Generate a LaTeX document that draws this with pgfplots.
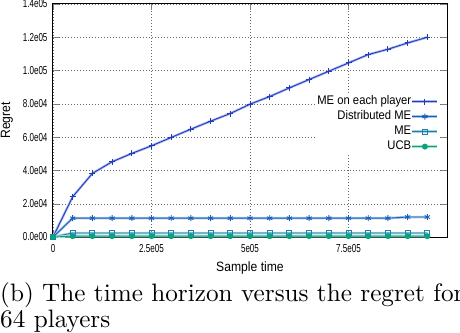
\documentclass[border=0pt]{standalone}
\usepackage{fontspec}
\usepackage{pgfplots}
\pgfplotsset{compat=1.18}
\newfontfamily\tickfont[FakeStretch=0.7]{Liberation Sans}
\newfontfamily\labfont[FakeStretch=0.9]{Liberation Sans}

\definecolor{c1}{HTML}{1F3CBF}\definecolor{c1l}{HTML}{B3BDEC}
\definecolor{c2}{HTML}{1560B8}\definecolor{c2l}{HTML}{A9C5E6}
\definecolor{c3}{HTML}{1F80B0}\definecolor{c3l}{HTML}{A5D0E3}
\definecolor{c4}{HTML}{0AA27F}\definecolor{c4l}{HTML}{A8E3D2}

% legend sample: light thick line under the plot's own line and mark
\pgfplotsset{halo legend/.style={legend image code/.code={%
  \draw[#1, line width=2.5pt] (0cm,0cm) -- (0.88cm,0cm);
  \draw[mark repeat=2,mark phase=2,##1] plot coordinates {(0cm,0cm)(0.44cm,0cm)(0.88cm,0cm)};}}}

% x = sample time
\pgfplotstableread{
x y
0 0
50000 24200
100000 38200
150000 45200
200000 50200
250000 54800
300000 59800
350000 64800
400000 69600
450000 74200
500000 79800
550000 84400
600000 89600
650000 94600
700000 99600
750000 104600
800000 109600
850000 112800
900000 116600
950000 120000
}\meeach
\pgfplotstableread{
x y
0 0
50000 11300
100000 11300
150000 11300
200000 11300
250000 11300
300000 11300
350000 11300
400000 11300
450000 11300
500000 11300
550000 11300
600000 11300
650000 11300
700000 11300
750000 11300
800000 11300
850000 11300
900000 12000
950000 12000
}\distme
\pgfplotstableread{
x y
0 0
50000 2400
100000 2400
150000 2400
200000 2400
250000 2400
300000 2400
350000 2400
400000 2400
450000 2400
500000 2400
550000 2400
600000 2400
650000 2400
700000 2400
750000 2400
800000 2400
850000 2400
900000 2400
950000 2400
}\me
\pgfplotstableread{
x y
0 0
50000 500
100000 500
150000 500
200000 500
250000 500
300000 500
350000 500
400000 500
450000 500
500000 500
550000 500
600000 500
650000 500
700000 500
750000 500
800000 500
850000 500
900000 500
950000 500
}\ucb

\begin{document}
\begin{tikzpicture}
\useasboundingbox (-53pt,-95pt) rectangle (407pt,237pt);
\begin{axis}[
  scale only axis,
  width=394pt, height=233pt,
  xmin=0, xmax=1000000,
  ymin=0, ymax=140000,
  scaled ticks=false,
  xtick={0,250000,500000,750000},
  xticklabels={0,2.5e05,5e05,7.5e05},
  ytick={0,20000,40000,60000,80000,100000,120000,140000},
  yticklabels={0.0e00,2.0e04,4.0e04,6.0e04,8.0e04,1.0e05,1.2e05,1.4e05},
  ticklabel style={font=\tickfont\fontsize{11.5}{13}\selectfont},
  xticklabel style={yshift=-4pt},
  yticklabel style={xshift=-2pt},
  major tick length=6pt,
  axis line style={line width=1pt},
  grid=major,
  grid style={black!60, dash pattern=on 0.8pt off 2.2pt},
  xlabel={Sample time},
  ylabel={Regret},
  label style={font=\labfont\fontsize{13.5}{15}\selectfont},
  xlabel style={at={(axis description cs:0.5,-0.146)}, anchor=base},
  ylabel style={at={(axis description cs:-0.117,0.5)}, anchor=center},
  legend style={at={(axis description cs:0.982,0.612)}, anchor=north east,
    draw=none, fill=white, inner sep=1pt, row sep=3pt,
    font=\labfont\fontsize{12.5}{14}\selectfont,
    nodes={inner sep=0pt, text height=9pt, text depth=3pt}},
  legend cell align=right,
  legend plot pos=right,
]
\addplot[forget plot, c1l, line width=2.5pt] table {\meeach};
\addplot[c1, line width=0.9pt, mark=+, mark size=3pt, halo legend=c1l] table {\meeach};
\addlegendentry{ME on each player}
\addplot[forget plot, c2l, line width=2.5pt] table {\distme};
\addplot[c2, line width=0.9pt, mark=asterisk, mark size=3pt, halo legend=c2l] table {\distme};
\addlegendentry{Distributed ME}
\addplot[forget plot, c3l, line width=2.5pt] table {\me};
\addplot[c3, line width=0.9pt, mark=square, mark size=2.5pt, halo legend=c3l] table {\me};
\addlegendentry{ME}
\addplot[forget plot, c4l, line width=2.5pt] table {\ucb};
\addplot[c4, line width=0.9pt, mark=*, mark size=2.5pt, halo legend=c4l] table {\ucb};
\addlegendentry{UCB}
\end{axis}
% caption: 10pt design scaled up, as in the reference
\node[anchor=base west, inner sep=0pt]
  at (-53pt,-64pt) {\scalebox{2.52}{(b) The time horizon versus the regret for}};
\node[anchor=base west, inner sep=0pt]
  at (-53pt,-90pt) {\scalebox{2.52}{64 players}};
\end{tikzpicture}
\end{document}
